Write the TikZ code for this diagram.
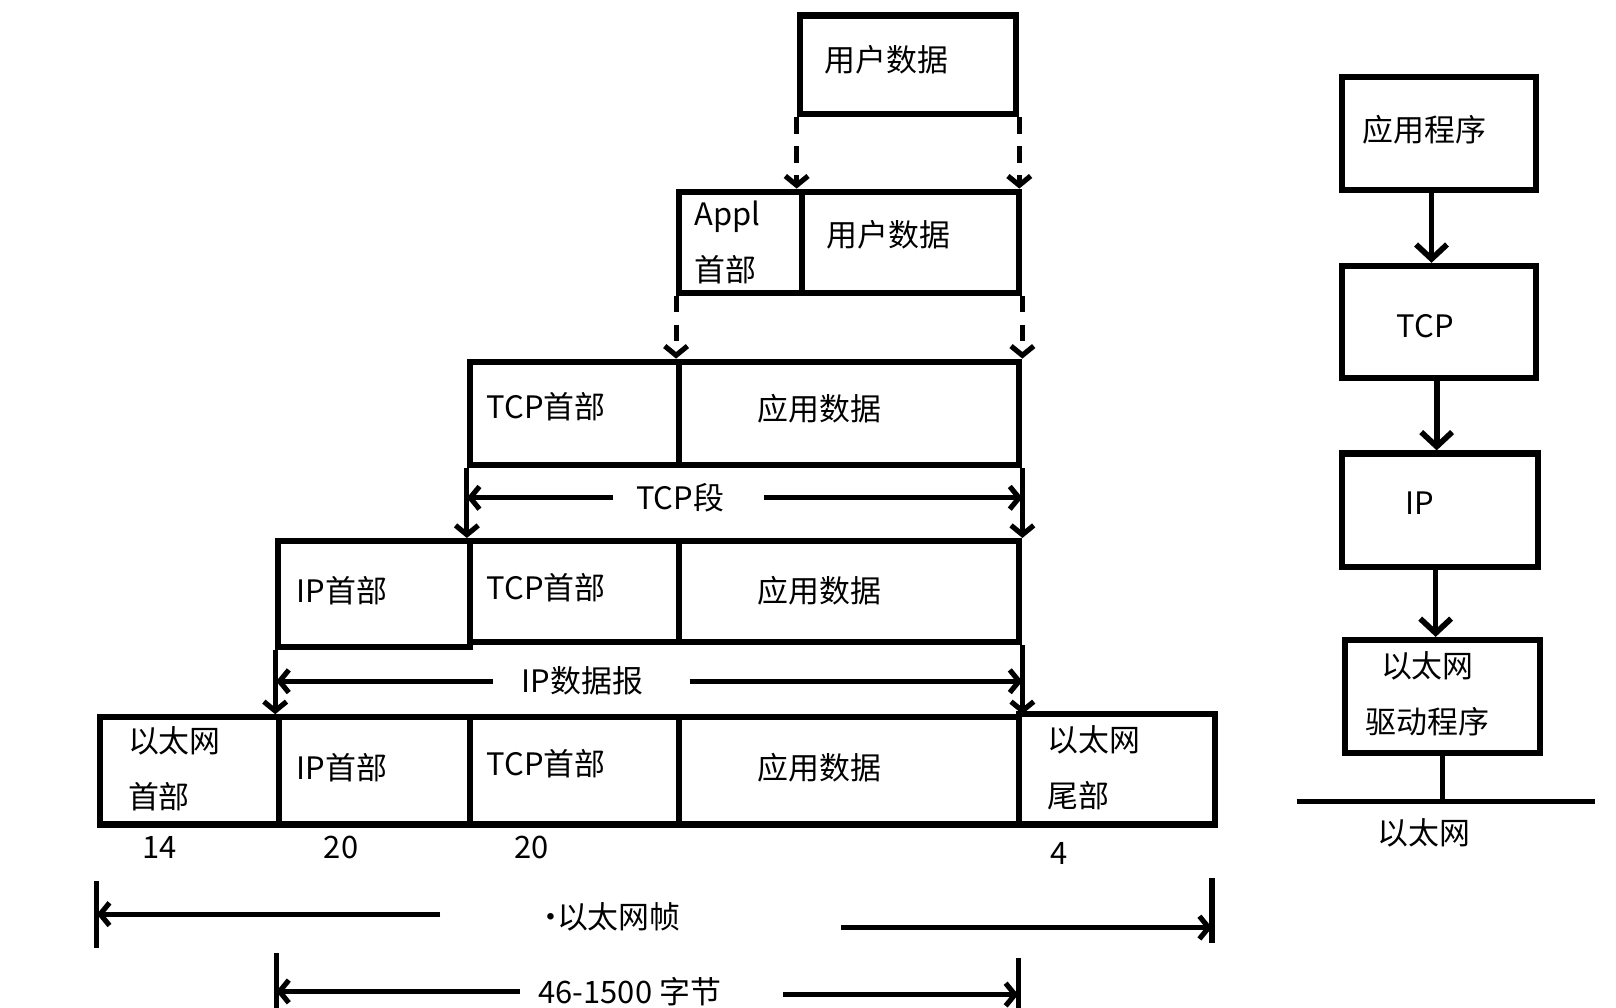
\documentclass[tikz,border=0pt]{standalone}
\usepackage{fontspec}
\newfontfamily\cjk{Noto Sans CJK SC}
\usetikzlibrary{arrows.meta}

\tikzset{
  cell/.style={draw, line width=6pt, anchor=north west, inner sep=0pt},
  txt/.style={font=\cjk\fontsize{30}{54}\selectfont, inner sep=0pt},
  flow/.style={line width=5.5pt, -{Straight Barb[length=14pt,width=30pt]}},
  dim/.style={line width=5pt, -{Straight Barb[length=9pt,width=22pt]}},
  dimdash/.style={dim, dash pattern=on 16pt off 12pt},
  bar/.style={line width=5pt}
}

\begin{document}
\begin{tikzpicture}[x=1pt, y=-1pt]
\useasboundingbox (0,0) rectangle (1568,978);

% encapsulation, top to bottom
\node[cell, minimum width=210, minimum height=96] (user0) at (773,12) {};
\node[cell, minimum width=119, minimum height=98] (appl) at (656,183) {};
\node[cell, minimum width=211, minimum height=98] (user1) at (775,183) {};
\node[cell, minimum width=203, minimum height=100] (tcpH2) at (453,348) {};
\node[cell, minimum width=330, minimum height=100] (app2) at (656,348) {};
\node[cell, minimum width=186, minimum height=103] (ipH3) at (267,522) {};
\node[cell, minimum width=203, minimum height=98] (tcpH3) at (453,522) {};
\node[cell, minimum width=330, minimum height=98] (app3) at (656,522) {};
\node[cell, minimum width=174, minimum height=104] (ethH) at (94,693) {};
\node[cell, minimum width=185, minimum height=104] (ipE) at (268,693) {};
\node[cell, minimum width=203, minimum height=104] (tcpE) at (453,693) {};
\node[cell, minimum width=330, minimum height=104] (appE) at (656,693) {};
\node[cell, minimum width=190, minimum height=107] (ethT) at (986,690) {};

\node[txt] (user0t) at (860,58) {用户数据};
\node[txt, align=left, anchor=west] (applt) at (674,235) {Appl\\首部};
\node[txt] (user1t) at (862,228) {用户数据};
\node[txt] (tcpH2t) at (530,395) {TCP首部};
\node[txt] (app2t) at (795,397) {应用数据};
\node[txt] (ipH3t) at (332,573) {IP首部};
\node[txt] (tcpH3t) at (530,570) {TCP首部};
\node[txt] (app3t) at (795,573) {应用数据};
\node[txt, align=left, anchor=west] (ethHt) at (124,746) {以太网\\首部};
\node[txt] (ipEt) at (332,745) {IP首部};
\node[txt] (tcpEt) at (530,741) {TCP首部};
\node[txt] (appEt) at (795,745) {应用数据};
\node[txt, align=left, anchor=west] (ethTt) at (1016,745) {以太网\\尾部};

\node[txt] (n14) at (155,822) {14};
\node[txt] (n20a) at (331,822) {20};
\node[txt] (n20b) at (516,822) {20};
\node[txt] (n4) at (1028,828) {4};

\draw[dimdash] (user0.south west) -- (user0.south west |- user1.north);
\draw[dimdash] (user0.south east) -- (user0.south east |- user1.north);
\draw[dimdash] (appl.south west) -- (appl.south west |- app2.north);
\draw[dimdash] (user1.south east) -- (user1.south east |- app2.north);
\draw[dim] (tcpH2.south west) -- (tcpH2.south west |- tcpH3.north);
\draw[dim] (app2.south east) -- (app2.south east |- app3.north);
\draw[dim] (ipH3.south west) -- (ipH3.south west |- ipE.north);
\draw[dim] (app3.south east) -- (app3.south east |- appE.north);

% lengths
\node[txt] (seg) at (660,483) {TCP段};
\draw[dim] ([xshift=-22pt]seg.west) -- (seg.west -| tcpH2.south west);
\draw[dim] ([xshift=38pt]seg.east) -- (seg.east -| app2.south east);

\node[txt] (dgram) at (565,661) {IP数据报};
\draw[dim] ([xshift=-28pt]dgram.west) -- (dgram.west -| ipE.north west);
\draw[dim] ([xshift=45pt]dgram.east) -- (dgram.east -| app3.south east);

\node[txt] (frame) at (590,890) {·\kern-9pt 以太网帧};
\coordinate (frL) at (94,887);
\coordinate (frR) at (1176,900);
\draw[bar] (94,855) -- (94,920);
\draw[bar] (1176,852) -- (1176,915);
\draw[dim] ([xshift=-92pt,yshift=3pt]frame.west) -- (frL);
\draw[dim] ([xshift=155pt,yshift=-10pt]frame.east) -- (frR);

\node[txt] (bytes) at (611,962) {46-1500 字节};
\coordinate (byL) at (268,962);
\coordinate (byR) at (988,965);
\draw[bar] (268,925) -- (268,985);
\draw[bar] (988,930) -- (988,985);
\draw[dim] ([xshift=-18pt]bytes.west) -- (byL);
\draw[dim] ([xshift=60pt,yshift=-3pt]bytes.east) -- (byR);

% protocol stack
\node[cell, minimum width=188, minimum height=109] (appP) at (1299,72) {};
\node[cell, minimum width=188, minimum height=109] (tcpP) at (1299,255) {};
\node[cell, minimum width=190, minimum height=110] (ipP) at (1299,437) {};
\node[cell, minimum width=189, minimum height=110] (drvP) at (1302,618) {};
\node[txt] (appPt) at (1382,126) {应用程序};
\node[txt] (tcpPt) at (1383,316) {TCP};
\node[txt] (ipPt) at (1378,488) {IP};
\node[txt, align=center] (drvPt) at (1385,673) {以太网\\驱动程序};

\draw[flow] ([xshift=-7pt]appP.south) -- ([xshift=-7pt]tcpP.north);
\draw[flow] ([xshift=-2pt]tcpP.south) -- ([xshift=-2pt]tcpP.south |- ipP.north);
\draw[flow] ([xshift=-4pt]ipP.south) -- ([xshift=-4pt]ipP.south |- drvP.north);

\coordinate (busL) at (1258,778);
\coordinate (busR) at (1548,778);
\draw[bar] (busL) -- (busR);
\draw[bar] (drvP.south) -- (drvP.south |- busL);
\node[txt] (busT) at (1382,808) {以太网};
\end{tikzpicture}
\end{document}
